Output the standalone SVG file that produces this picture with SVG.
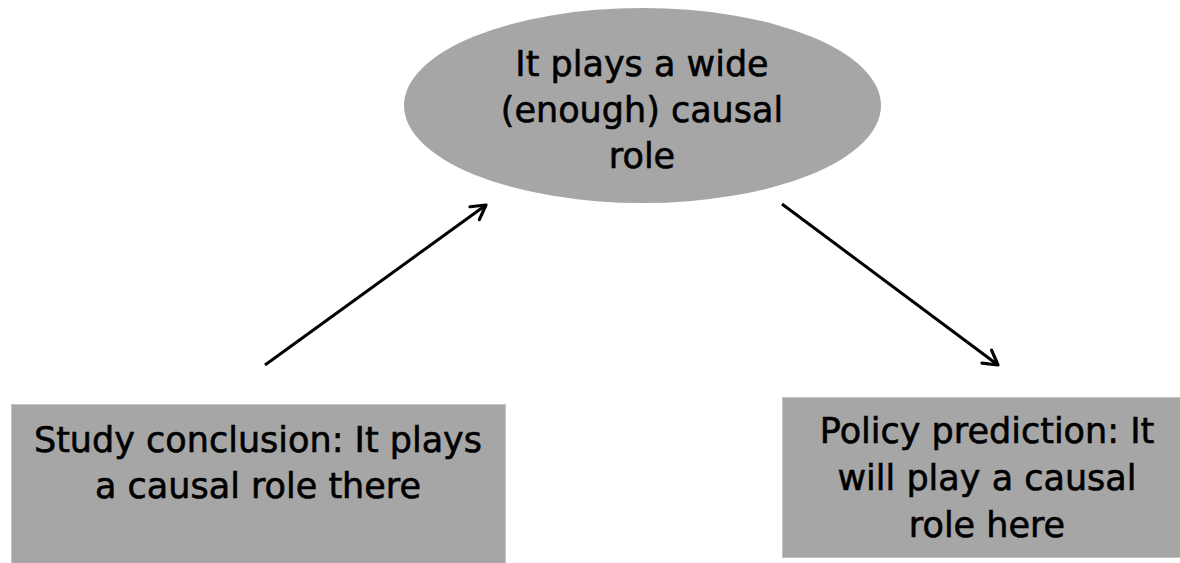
<svg xmlns="http://www.w3.org/2000/svg" width="1180" height="563" viewBox="0 0 1180 563">
  <style>
    .shape { fill: #a6a6a6; }
    .box { fill: #a6a6a6; stroke: #c4c4c4; stroke-width: 1; }
    .label { font-family: "DejaVu Sans", Verdana, sans-serif; font-size: 35px; fill: #000; stroke: #000; stroke-width: 0.6; text-anchor: middle; }
    .conn { stroke: #000; stroke-width: 3; fill: none; marker-end: url(#arrow); }
  </style>
  <defs>
    <marker id="arrow" viewBox="0 0 20 20" refX="17" refY="10" markerWidth="20" markerHeight="20" markerUnits="userSpaceOnUse" orient="auto">
      <path d="M3,2 L17,10 L3,18" fill="none" stroke="#000" stroke-width="3.2" stroke-linecap="round" stroke-linejoin="round"/>
    </marker>
  </defs>
  <rect width="1180" height="563" fill="#ffffff"/>
  <g id="node-wide-role">
    <ellipse class="shape" cx="642.5" cy="105.5" rx="238.5" ry="97.5"/>
    <text class="label" x="642" y="76">It plays a wide</text>
    <text class="label" x="642" y="122">(enough) causal</text>
    <text class="label" x="642" y="168">role</text>
  </g>
  <g id="node-study">
    <rect class="box" x="11.5" y="404.5" width="494" height="170"/>
    <text class="label" x="258" y="452">Study conclusion: It plays</text>
    <text class="label" x="258" y="498">a causal role there</text>
  </g>
  <g id="node-policy">
    <rect class="box" x="782.5" y="397.5" width="410" height="160"/>
    <text class="label" x="987" y="443">Policy prediction: It</text>
    <text class="label" x="987" y="490">will play a causal</text>
    <text class="label" x="987" y="537">role here</text>
  </g>
  <g id="connectors">
    <line class="conn" x1="265" y1="365" x2="486" y2="205"/>
    <line class="conn" x1="782" y1="204" x2="998" y2="365"/>
  </g>
</svg>
